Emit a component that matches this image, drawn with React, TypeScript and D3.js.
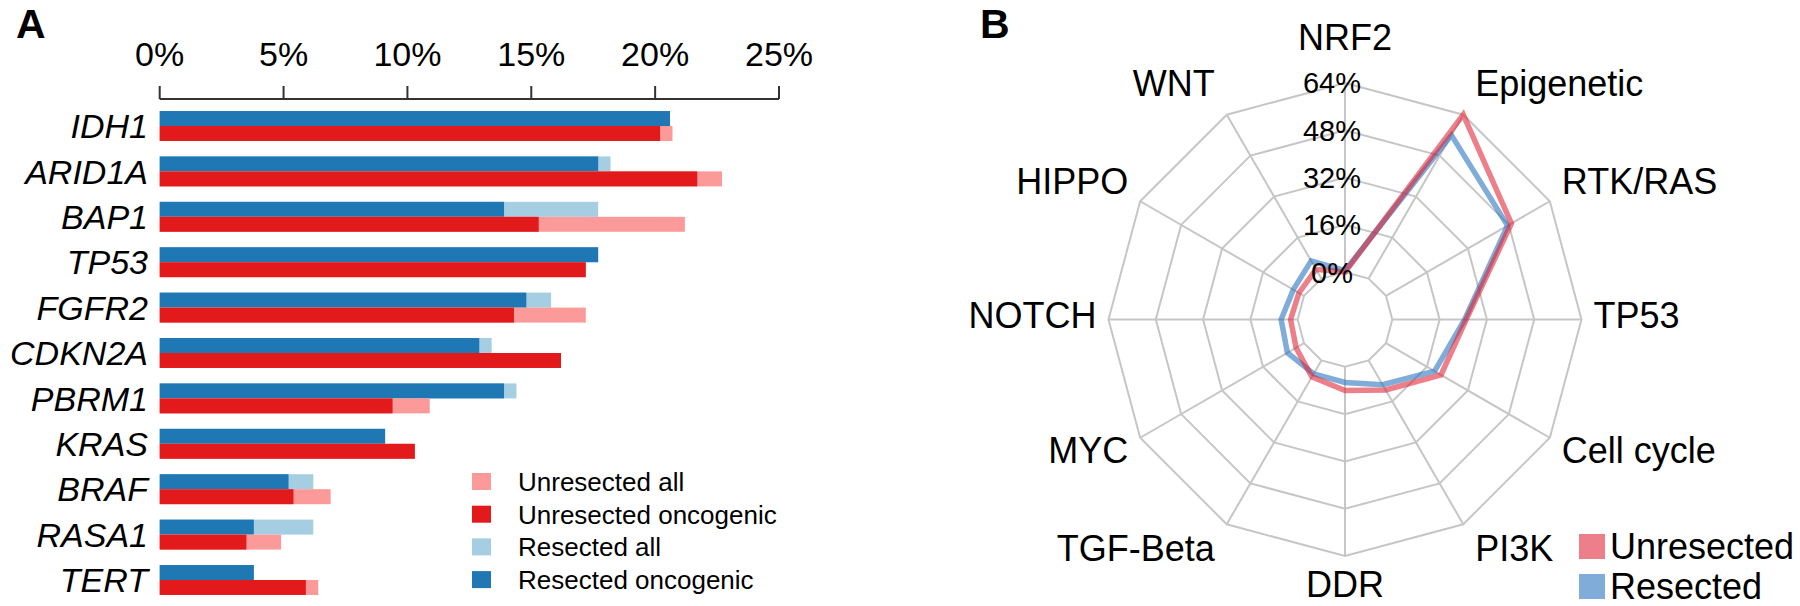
import React from 'react';
import * as d3 from 'd3';

// ---------- Panel A data ----------
const genes = ["IDH1", "ARID1A", "BAP1", "TP53", "FGFR2", "CDKN2A", "PBRM1", "KRAS", "BRAF", "RASA1", "TERT"];
const unresectedAll = [20.7, 22.7, 21.2, 17.2, 17.2, 16.2, 10.9, 10.3, 6.9, 4.9, 6.4];
const unresectedOnc = [20.2, 21.7, 15.3, 17.2, 14.3, 16.2, 9.4, 10.3, 5.4, 3.5, 5.9];
const resectedAll = [20.6, 18.2, 17.7, 17.7, 15.8, 13.4, 14.4, 9.1, 6.2, 6.2, 3.8];
const resectedOnc = [20.6, 17.7, 13.9, 17.7, 14.8, 12.9, 13.9, 9.1, 5.2, 3.8, 3.8];
const xTicks = [0, 5, 10, 15, 20, 25];
const legendA = ["Unresected all", "Unresected oncogenic", "Resected all", "Resected oncogenic"];

// ---------- Panel B data ----------
const pathways = ["NRF2", "Epigenetic", "RTK/RAS", "TP53", "Cell cycle", "PI3K", "DDR", "TGF-Beta", "MYC", "NOTCH", "HIPPO", "WNT"];
const unresectedPath = [0, 64, 49, 25, 21.5, 11.5, 8, 6.4, 3.1, 2.4, 2.0, 3.6];
const resectedPath = [0.5, 56, 47.5, 24.5, 19, 9.5, 5.3, 5.2, 6.5, 5.6, 4.2, 6.9];
const rTicks = [0, 16, 32, 48, 64];
const legendB = ["Unresected", "Resected"];

const FONT = "'Liberation Sans', Arial, Helvetica, sans-serif";

const C_PINK = "#fb9a99";
const C_RED = "#e31a1c";
const C_LBLUE = "#a6cee3";
const C_BLUE = "#1f78b4";
const legendAColors = [C_PINK, C_RED, C_LBLUE, C_BLUE];

const R_LINE = "rgb(222,34,52)";
const B_LINE = "rgb(34,112,190)";
const LINE_OP = 0.58;

export default function App() {
  // ----- Panel A scales -----
  const x = d3.scaleLinear().domain([0, 25]).range([159.7, 779]);
  const y = d3.scaleBand<string>().domain(genes).range([103.3, 602.7]).paddingInner(0.34).paddingOuter(0.17);
  const bw = y.bandwidth();
  const axisY = 99;
  const tickLen = 13;

  // legend A layout
  const lgX = 472, lgY = 473, lgStep = 32.7;

  // ----- Panel B scales -----
  const cx = 1345, cy = 319.5, R = 236.5;
  const r = d3.scaleLinear().domain([0, 64]).range([R / 5, R]);
  const n = pathways.length;
  const ang = (i: number) => (i * 2 * Math.PI) / n;
  const pt = (i: number, rad: number): [number, number] => [cx + rad * Math.sin(ang(i)), cy - rad * Math.cos(ang(i))];

  const radial = d3
    .lineRadial<number>()
    .angle((_, i) => ang(i))
    .radius((d) => r(d))
    .curve(d3.curveLinearClosed);

  const ringPath = (v: number) => radial(pathways.map(() => v)) as string;

  return (
    <svg width={1800} height={606} style={{ position: 'absolute', left: 0, top: 0, background: '#fff' }} fontFamily={FONT}>
      <rect x={0} y={0} width={1800} height={606} fill="#fff" />
      {/* Panel letters */}
      <text x={16} y={38} fontSize={41} fontWeight="bold">A</text>
      <text x={980} y={38} fontSize={41} fontWeight="bold">B</text>

      {/* ---------- Panel A ---------- */}
      <g>
        {genes.map((g, i) => {
          const y0 = y(g) as number;
          return (
            <g key={g}>
              <rect x={x(0)} y={y0} width={x(resectedAll[i]) - x(0)} height={bw / 2} fill={C_LBLUE} />
              <rect x={x(0)} y={y0} width={x(resectedOnc[i]) - x(0)} height={bw / 2} fill={C_BLUE} />
              <rect x={x(0)} y={y0 + bw / 2} width={x(unresectedAll[i]) - x(0)} height={bw / 2} fill={C_PINK} />
              <rect x={x(0)} y={y0 + bw / 2} width={x(unresectedOnc[i]) - x(0)} height={bw / 2} fill={C_RED} />
              <text x={148} y={y0 + bw / 2 + 12.2} fontSize={34} fontStyle="italic" textAnchor="end">{g}</text>
            </g>
          );
        })}
        {/* axis */}
        <line x1={x(0)} x2={x(25)} y1={axisY} y2={axisY} stroke="#333" strokeWidth={2} />
        {xTicks.map((t) => (
          <g key={t}>
            <line x1={x(t)} x2={x(t)} y1={axisY} y2={axisY - tickLen} stroke="#333" strokeWidth={2} />
            <text x={x(t)} y={66} fontSize={34} textAnchor="middle">{t}%</text>
          </g>
        ))}
        {/* legend */}
        {legendA.map((l, i) => (
          <g key={l}>
            <rect x={lgX} y={lgY + i * lgStep} width={19} height={17} fill={legendAColors[i]} />
            <text x={518} y={lgY + i * lgStep + 8.5 + 9.3} fontSize={26}>{l}</text>
          </g>
        ))}
      </g>

      {/* ---------- Panel B ---------- */}
      <g>
        <g transform={`translate(${cx},${cy})`} fill="none" stroke="#c6c6c6" strokeWidth={2}>
          {rTicks.map((v) => (
            <path key={v} d={ringPath(v)} />
          ))}
        </g>
        {pathways.map((p, i) => {
          const a = pt(i, r(0));
          const b = pt(i, r(64));
          return <line key={p} x1={a[0]} y1={a[1]} x2={b[0]} y2={b[1]} stroke="#c6c6c6" strokeWidth={2} />;
        })}
        <g transform={`translate(${cx},${cy})`} fill="none" strokeWidth={5.5} strokeLinejoin="miter">
          <path d={radial(resectedPath) as string} stroke={B_LINE} strokeOpacity={LINE_OP} />
          <path d={radial(unresectedPath) as string} stroke={R_LINE} strokeOpacity={LINE_OP} />
        </g>
        {/* radial tick labels */}
        {rTicks.map((v) => (
          <text key={v} x={cx - 13} y={cy - r(v) + 10.4} fontSize={29} textAnchor="middle">{v}%</text>
        ))}
        {/* category labels */}
        {pathways.map((p, i) => {
          const [vx, vy] = pt(i, R);
          const s = Math.sin(ang(i));
          const c = Math.cos(ang(i));
          const anchor = Math.abs(s) < 0.01 ? 'middle' : s > 0 ? 'start' : 'end';
          const dx = Math.abs(s) < 0.01 ? 0 : 12 * Math.sign(s);
          const dy = -4 - 32 * c - (c > 0.99 ? 10 : 0);
          return (
            <text key={p} x={vx + dx} y={vy + dy + 12.9} fontSize={36} textAnchor={anchor}>{p}</text>
          );
        })}
        {/* legend */}
        {legendB.map((l, i) => (
          <g key={l}>
            <rect x={1579} y={534 + i * 40} width={26} height={25} fill={i === 0 ? R_LINE : B_LINE} fillOpacity={LINE_OP} />
            <text x={1610} y={534 + i * 40 + 12.5 + 12.9} fontSize={36}>{l}</text>
          </g>
        ))}
      </g>
    </svg>
  );
}
